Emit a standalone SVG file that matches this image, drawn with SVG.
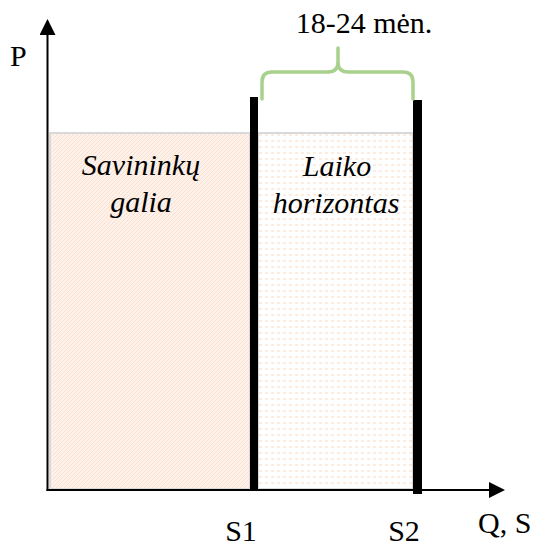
<svg xmlns="http://www.w3.org/2000/svg" width="538" height="548" viewBox="0 0 538 548">
<style>
.t{font-family:"Liberation Serif","Times New Roman",serif;font-size:30px;fill:#000}
.i{font-style:italic}
.box{stroke:#d9d9d9;stroke-width:2}
.bar{fill:#000}
.ax{stroke:#000;stroke-width:2;fill:none}
.brace{stroke:#a9d18e;stroke-width:3.5;fill:none;stroke-linecap:round;stroke-linejoin:round}
</style>
<defs>
<pattern id="hatch" width="4" height="4" patternUnits="userSpaceOnUse">
<rect width="4" height="4" fill="#fdf1e9"/>
<path d="M0,4 L4,0 M-1,1 L1,-1 M3,5 L5,3" stroke="#f9e0d0" stroke-width="1"/>
</pattern>
<pattern id="dots" width="6" height="6" patternUnits="userSpaceOnUse">
<rect width="6" height="6" fill="#ffffff"/>
<rect x="1" y="2" width="3" height="2" fill="#fcebdf"/>
</pattern>
<marker id="arr" markerWidth="16" markerHeight="16" refX="14" refY="8" orient="auto" markerUnits="userSpaceOnUse">
<path d="M0,0 L16,8 L0,16 Z" fill="#000"/>
</marker>
</defs>
<g id="owners">
<rect class="box" x="50" y="133" width="200" height="356" fill="url(#hatch)"/>
<text class="t i" x="141" y="175" text-anchor="middle">Savininkų</text>
<text class="t i" x="141" y="212" text-anchor="middle">galia</text>
</g>
<g id="horizon">
<rect class="box" x="258" y="133" width="155" height="356" fill="url(#dots)"/>
<text class="t i" x="337" y="176" text-anchor="middle">Laiko</text>
<text class="t i" x="336" y="213" text-anchor="middle">horizontas</text>
</g>
<g id="connectors">
<line class="ax" x1="47.5" y1="491" x2="47.5" y2="21" marker-end="url(#arr)"/>
<line class="ax" x1="46.5" y1="490" x2="503" y2="490" marker-end="url(#arr)"/>
</g>
<g id="s1">
<rect class="bar" x="250" y="97" width="8" height="394"/>
<text class="t" x="241" y="541" text-anchor="middle">S1</text>
</g>
<g id="s2">
<rect class="bar" x="413" y="100" width="9" height="394"/>
<text class="t" x="404" y="541" text-anchor="middle">S2</text>
</g>
<g id="brace">
<path class="brace" d="M262,99 L262,82 Q262,72 272,72 L328,72 Q338,72 338,62 L338,48 M338,62 Q338,72 348,72 L403,72 Q413,72 413,82 L413,99"/>
<text class="t" x="364" y="33" text-anchor="middle" font-size="31">18-24 mėn.</text>
</g>
<g id="labels">
<text class="t" x="10" y="66">P</text>
<text class="t" x="478" y="533">Q, S</text>
</g>
</svg>
